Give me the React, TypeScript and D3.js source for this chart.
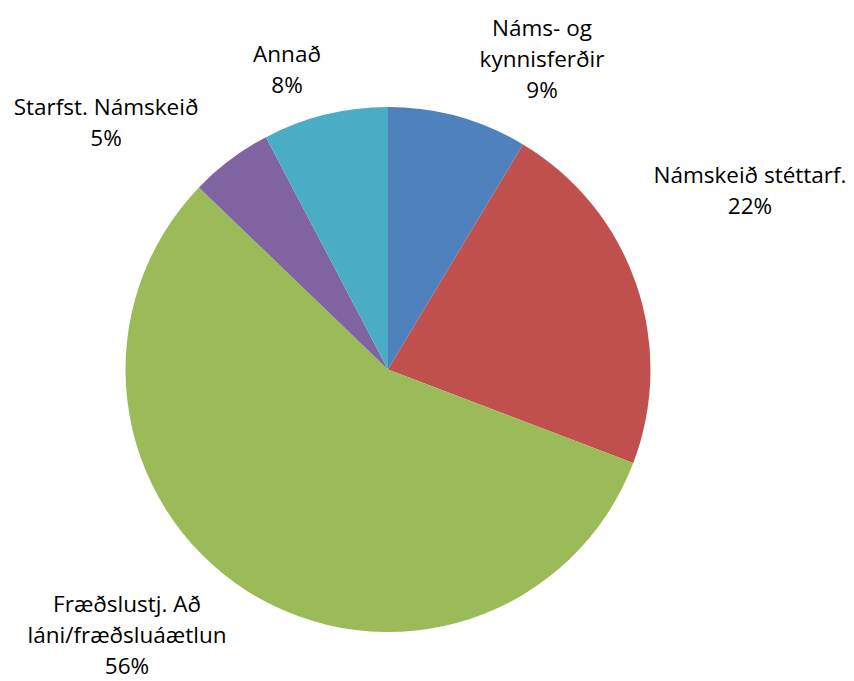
import { useEffect, useRef } from 'react'
import * as d3 from 'd3'

const categories = ['Náms- og kynnisferðir', 'Námskeið stéttarf.', 'Fræðslustj. Að láni/fræðsluáætlun', 'Starfst. Námskeið', 'Annað']
const values = [8.6, 22.2, 56.4, 5.1, 7.7]
const colors = ['#4F81BD', '#C0504D', '#9BBB59', '#8064A2', '#4BACC6']
// label text split into lines, as the chart wraps them
const labelLines = [['Náms- og', 'kynnisferðir'], ['Námskeið stéttarf.'], ['Fræðslustj. Að', 'láni/fræðsluáætlun'], ['Starfst. Námskeið'], ['Annað']]

// label anchors (center x, first baseline y) — placed like the best-fit labels
const labelPos = [[542, 36], [750, 183], [127, 612], [106, 115], [287, 62]]

export default function App() {
  const svgRef = useRef<SVGSVGElement>(null)
  const W = 854, H = 681

  useEffect(() => {
    const svg = d3.select(svgRef.current)
    svg.selectAll('*').remove()

    const cx = 388, cy = 369.5, r = 262.5
    const total = d3.sum(values)
    const pie = d3.pie<number>().sort(null).value(d => d)
    const arc = d3.arc<d3.PieArcDatum<number>>().innerRadius(0).outerRadius(r)

    const g = svg.append('g').attr('transform', `translate(${cx},${cy})`)
    g.selectAll('path')
      .data(pie(values))
      .join('path')
      .attr('d', arc)
      .attr('fill', (_, i) => colors[i])

    const lineH = 31
    const lbl = svg.append('g')
      .attr('font-family', '"Open Sans", Lato, sans-serif')
      .attr('font-size', '22.5px')
      .attr('fill', '#000')
      .attr('text-anchor', 'middle')

    categories.forEach((c, i) => {
      const [x, y] = labelPos[i]
      const lines = [...labelLines[i], `${Math.round(values[i] / total * 100)}%`]
      const t = lbl.append('text').attr('x', x).attr('y', y)
      lines.forEach((s, j) => {
        t.append('tspan').attr('x', x).attr('dy', j === 0 ? 0 : lineH).text(s)
      })
      t.append('title').text(c)
    })
  }, [])

  return (
    <svg ref={svgRef} width={W} height={H} style={{ display: 'block', position: 'absolute', left: 0, top: 0, background: '#fff' }} />
  )
}
